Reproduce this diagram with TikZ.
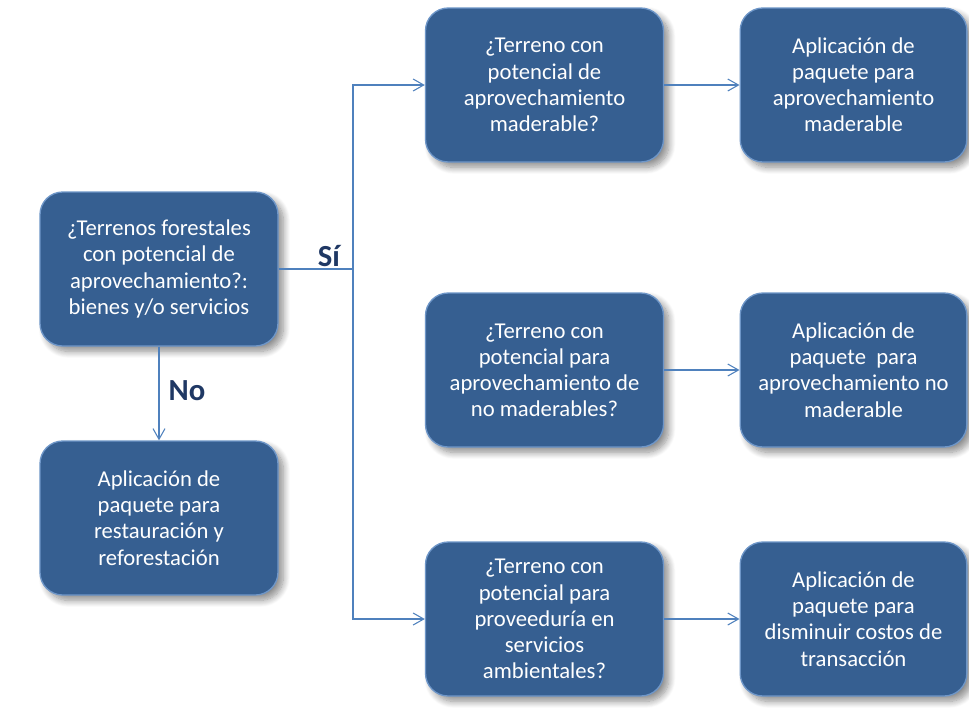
\documentclass[tikz,border=0pt]{standalone}
\usepackage{fontspec}
\setmainfont{Carlito}
\definecolor{BoxBlue}{RGB}{54,95,145}
\definecolor{EdgeBlue}{RGB}{110,150,200}
\definecolor{LineBlue}{RGB}{79,129,189}
\definecolor{LabelBlue}{RGB}{31,56,100}
\usetikzlibrary{positioning, arrows.meta, shadows, shadows.blur}

\begin{document}
\begin{tikzpicture}[x=0.75pt, y=-0.75pt,
    box/.style={rectangle, rounded corners=17pt, fill=BoxBlue, draw=EdgeBlue, line width=1pt,
      text=white, align=center, inner sep=0pt, minimum width=178.5pt, minimum height=115.5pt,
      font=\fontsize{17}{19.6}\selectfont,
      blur shadow={shadow xshift=4pt, shadow yshift=-4pt, shadow blur steps=10, shadow blur radius=5pt, shadow opacity=45}},
    abox/.style={box, minimum width=170pt},
    link/.style={draw=LineBlue, line width=0.8pt},
    arr/.style={link, -{Straight Barb[length=8pt, width=9pt]}},
    tag/.style={font=\fontsize{23}{26}\selectfont\bfseries, text=LabelBlue}]
  \useasboundingbox (0,0) rectangle (969,719);
  \node[box] (q0) at (159,269) {¿Terrenos forestales\\con potencial de\\aprovechamiento?:\\bienes y/o servicios};
  \node[box] (r0) at (159,518) {Aplicación de\\paquete para\\restauración y\\reforestación};
  \node[box] (q1) at (544.5,85) {¿Terreno con\\potencial de\\aprovechamiento\\maderable?};
  \node[box] (q2) at (544.5,370) {¿Terreno con\\potencial para\\aprovechamiento de\\no maderables?};
  \node[box] (q3) at (544.5,619) {¿Terreno con\\potencial para\\proveeduría en\\servicios\\ambientales?};
  \node[abox] (a1) at (853.5,85) {Aplicación de\\paquete para\\aprovechamiento\\maderable};
  \node[abox] (a2) at (853.5,370) {Aplicación de\\paquete\ \ para\\aprovechamiento no\\maderable};
  \node[abox] (a3) at (853.5,619) {Aplicación de\\paquete para\\disminuir costos de\\transacción};
  \coordinate (trunk) at (353,269);
  \draw[link] (q0.east) -- (trunk);
  \draw[arr] (trunk) |- (q1.west);
  \draw[arr] (trunk) |- (q3.west);
  \draw[arr] (q0.south) -- (r0.north);
  \draw[arr] (q1.east) -- (a1.west);
  \draw[arr] (q2.east) -- (a2.west);
  \draw[arr] (q3.east) -- (a3.west);
  \node[tag] (si) at (329,256) {Sí};
  \node[tag] (no) at (187,391) {No};
\end{tikzpicture}
\end{document}
